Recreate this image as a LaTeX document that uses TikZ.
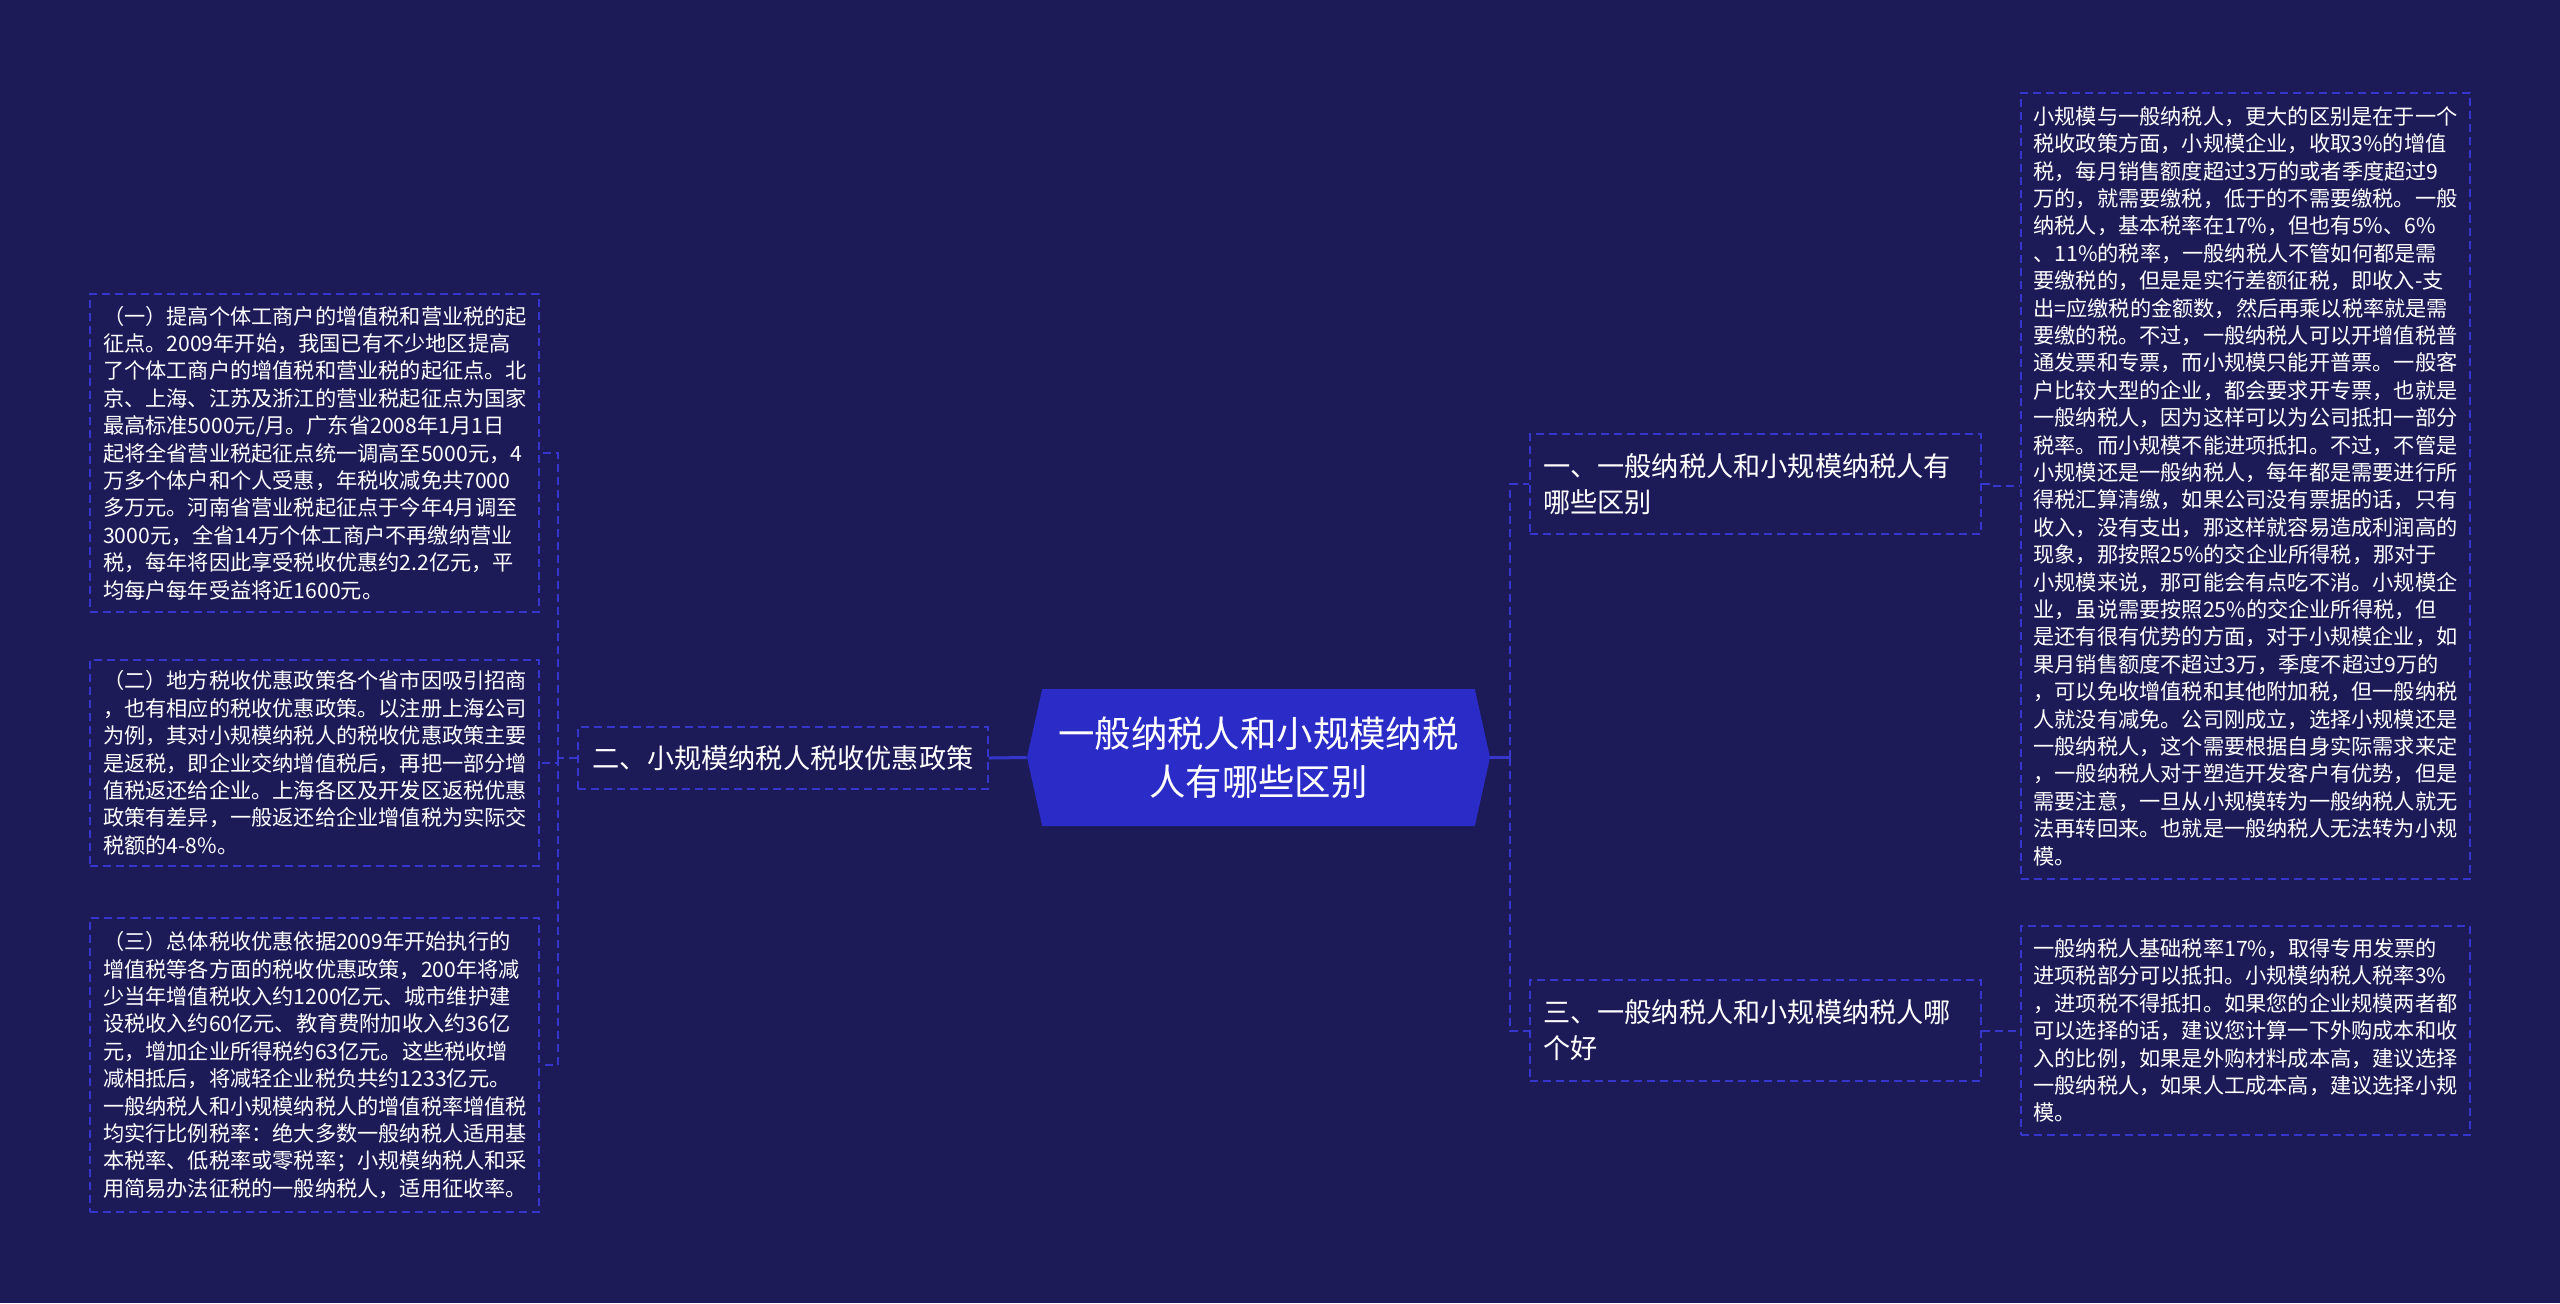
\documentclass[tikz,border=0pt]{standalone}
\usepackage{fontspec}
\setmainfont{Noto Sans CJK SC}
\usetikzlibrary{shapes.symbols}
\definecolor{bgnavy}{HTML}{1C1B58}
\definecolor{rootblue}{HTML}{2B2BC8}
\definecolor{dashblue}{HTML}{3636CC}
\begin{document}
\begin{tikzpicture}[x=0.5pt, y=-0.5pt,
    root/.style={signal, signal to=west and east, signal pointer angle=155, fill=rootblue, minimum width=231.5pt, minimum height=68.5pt, inner sep=0pt, align=center, text=white, font=\fontsize{18.2}{23.7}\selectfont},
    branch/.style={draw=dashblue, line width=1pt, dash pattern=on 4pt off 2.5pt, fill=bgnavy, text=white, inner xsep=6.5pt, inner ysep=0pt, align=left, font=\fontsize{13.6}{18}\selectfont},
    leaf/.style={draw=dashblue, line width=1pt, dash pattern=on 4pt off 2.5pt, fill=bgnavy, text=white, inner xsep=6.5pt, inner ysep=0pt, text width=211.5pt, align=left, font=\fontsize{10.6}{13.7}\selectfont},
    link/.style={draw=dashblue, line width=1pt, dash pattern=on 4pt off 2.5pt},
    stub/.style={draw=dashblue, line width=1.5pt}
]
    % Background
    \fill[bgnavy] (0,0) rectangle (2560,1303);
    \useasboundingbox (0,0) rectangle (2560,1303);

    % Root
    \node[root] (root) at (1258.5,757.5) {一般纳税人和小规模纳税\\人有哪些区别};

    % Branches
    \node[branch, text width=212.5pt, minimum height=50pt] (b1) at (1755.5,484) {一、一般纳税人和小规模纳税人有\\哪些区别};
    \node[branch, minimum width=205pt, minimum height=31pt, align=center] (b2) at (783,758) {二、小规模纳税人税收优惠政策};
    \node[branch, text width=212.5pt, minimum height=50.5pt] (b3) at (1755.5,1030.5) {三、一般纳税人和小规模纳税人哪\\个好};

    % Left leaves
    \node[leaf, minimum height=159pt] (a1) at (314.5,453) {（一）提高个体工商户的增值税和营业税的起\\征点。2009年开始，我国已有不少地区提高\\了个体工商户的增值税和营业税的起征点。北\\京、上海、江苏及浙江的营业税起征点为国家\\最高标准5000元/月。广东省2008年1月1日\\起将全省营业税起征点统一调高至5000元，4\\万多个体户和个人受惠，年税收减免共7000\\多万元。河南省营业税起征点于今年4月调至\\3000元，全省14万个体工商户不再缴纳营业\\税，每年将因此享受税收优惠约2.2亿元，平\\均每户每年受益将近1600元。};
    \node[leaf, minimum height=103pt] (a2) at (314.5,763) {（二）地方税收优惠政策各个省市因吸引招商\\，也有相应的税收优惠政策。以注册上海公司\\为例，其对小规模纳税人的税收优惠政策主要\\是返税，即企业交纳增值税后，再把一部分增\\值税返还给企业。上海各区及开发区返税优惠\\政策有差异，一般返还给企业增值税为实际交\\税额的4-8\%。};
    \node[leaf, minimum height=147pt] (a3) at (314.5,1065) {（三）总体税收优惠依据2009年开始执行的\\增值税等各方面的税收优惠政策，200年将减\\少当年增值税收入约1200亿元、城市维护建\\设税收入约60亿元、教育费附加收入约36亿\\元，增加企业所得税约63亿元。这些税收增\\减相抵后，将减轻企业税负共约1233亿元。\\一般纳税人和小规模纳税人的增值税率增值税\\均实行比例税率：绝大多数一般纳税人适用基\\本税率、低税率或零税率；小规模纳税人和采\\用简易办法征税的一般纳税人，适用征收率。};

    % Right leaves
    \node[leaf, minimum height=393pt] (c1) at (2245,486) {小规模与一般纳税人，更大的区别是在于一个\\税收政策方面，小规模企业，收取3\%的增值\\税，每月销售额度超过3万的或者季度超过9\\万的，就需要缴税，低于的不需要缴税。一般\\纳税人，基本税率在17\%，但也有5\%、6\%\\、11\%的税率，一般纳税人不管如何都是需\\要缴税的，但是是实行差额征税，即收入-支\\出=应缴税的金额数，然后再乘以税率就是需\\要缴的税。不过，一般纳税人可以开增值税普\\通发票和专票，而小规模只能开普票。一般客\\户比较大型的企业，都会要求开专票，也就是\\一般纳税人，因为这样可以为公司抵扣一部分\\税率。而小规模不能进项抵扣。不过，不管是\\小规模还是一般纳税人，每年都是需要进行所\\得税汇算清缴，如果公司没有票据的话，只有\\收入，没有支出，那这样就容易造成利润高的\\现象，那按照25\%的交企业所得税，那对于\\小规模来说，那可能会有点吃不消。小规模企\\业，虽说需要按照25\%的交企业所得税，但\\是还有很有优势的方面，对于小规模企业，如\\果月销售额度不超过3万，季度不超过9万的\\，可以免收增值税和其他附加税，但一般纳税\\人就没有减免。公司刚成立，选择小规模还是\\一般纳税人，这个需要根据自身实际需求来定\\，一般纳税人对于塑造开发客户有优势，但是\\需要注意，一旦从小规模转为一般纳税人就无\\法再转回来。也就是一般纳税人无法转为小规\\模。};
    \node[leaf, minimum height=104.5pt] (c2) at (2245,1030.5) {一般纳税人基础税率17\%，取得专用发票的\\进项税部分可以抵扣。小规模纳税人税率3\%\\，进项税不得抵扣。如果您的企业规模两者都\\可以选择的话，建议您计算一下外购成本和收\\入的比例，如果是外购材料成本高，建议选择\\一般纳税人，如果人工成本高，建议选择小规\\模。};

    % Junctions
    \coordinate (jr) at (1510,757.5);
    \coordinate (jl) at (558,758);

    % Root to branches
    \draw[stub] (root.east) -- (jr);
    \draw[link] (jr) |- (b1.west);
    \draw[link] (jr) |- (b3.west);
    \draw[stub] (root.west) -- (b2.east);

    % Branches to leaves
    \draw[link] (b2.west) -- (jl);
    \draw[link] (jl) |- (a1.east);
    \draw[link] (jl) |- (a2.east);
    \draw[link] (jl) |- (a3.east);
    \draw[link] (b1.east) -- ++(10,0) |- (c1.west);
    \draw[link] (b3.east) -- ++(10,0) |- (c2.west);

\end{tikzpicture}
\end{document}
